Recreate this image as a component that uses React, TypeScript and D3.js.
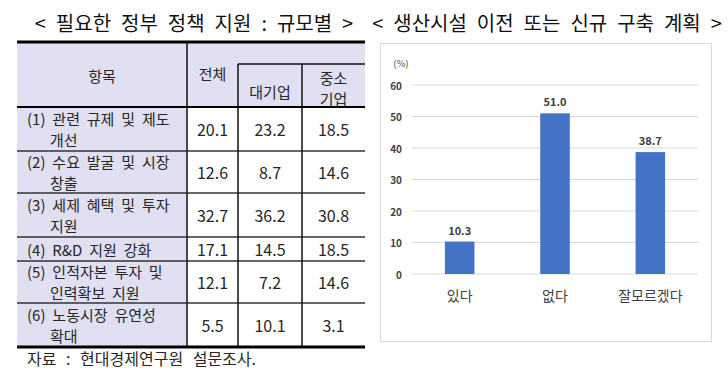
import React from "react";
import * as d3 from "d3";

const titleLeft = "< 필요한 정부 정책 지원 : 규모별 >";
const titleRight = "< 생산시설 이전 또는 신규 구축 계획 >";
const headerItem = "항목";
const headerTotal = "전체";
const headerLarge = "대기업";
const headerSme = ["중소", "기업"];
const itemLabels = [
  ["(1) 관련 규제 및 제도", "개선"],
  ["(2) 수요 발굴 및 시장", "창출"],
  ["(3) 세제 혜택 및 투자", "지원"],
  ["(4) R&D 지원 강화"],
  ["(5) 인적자본 투자 및", "인력확보 지원"],
  ["(6) 노동시장 유연성", "확대"],
];
const totalValues = [20.1, 12.6, 32.7, 17.1, 12.1, 5.5];
const largeValues = [23.2, 8.7, 36.2, 14.5, 7.2, 10.1];
const smeValues = [18.5, 14.6, 30.8, 18.5, 14.6, 3.1];
const sourceNote = "자료 : 현대경제연구원 설문조사.";

const planCategories = ["있다", "없다", "잘모르겠다"];
const planValues = [10.3, 51.0, 38.7];
const yTicks = [0, 10, 20, 30, 40, 50, 60];
const unitLabel = "(%)";

const FONT = "'Noto Sans CJK KR', 'Noto Sans', sans-serif";

export default function App() {
  // table layout
  const tL = 17, tR = 365;
  const colEdges = [tL, 187, 238, 302, tR];
  const headTop = 42, subTop = 64, headBottom = 107;
  const rowEdges = [107, 151, 193, 237, 261, 303, 347];
  const lav = "#e0e0f2";
  const txt = "#262626";
  const fs = 15;

  // chart layout
  const y = d3.scaleLinear().domain([0, 60]).range([274, 85]);
  const x = d3.scaleBand<string>().domain(planCategories).range([412, 698]).paddingInner(0.69).paddingOuter(0.345);

  const colCenters = [
    (colEdges[1] + colEdges[2]) / 2,
    (colEdges[2] + colEdges[3]) / 2,
    (colEdges[3] + colEdges[4]) / 2,
  ];
  const valueCols = [totalValues, largeValues, smeValues];

  return (
    <div style={{ position: "absolute", left: 0, top: 0 }}>
      <svg width={728} height={378} style={{ display: "block", background: "#fff", fontFamily: FONT }}>
        {/* titles */}
        <text x={194} y={31} textAnchor="middle" fontSize={20} fill="#111" style={{ wordSpacing: "5.5px" }}>{titleLeft}</text>
        <text x={547} y={31} textAnchor="middle" fontSize={20} fill="#111" style={{ wordSpacing: "5.5px" }}>{titleRight}</text>

        {/* table backgrounds */}
        <rect x={tL} y={headTop} width={tR - tL} height={headBottom - headTop} fill={lav} />
        <rect x={tL} y={headBottom} width={colEdges[1] - tL} height={rowEdges[6] - headBottom} fill={lav} />

        {/* header text */}
        <text x={(tL + colEdges[1]) / 2} y={75} textAnchor="middle" dominantBaseline="central" fontSize={fs} fill={txt}>{headerItem}</text>
        <text x={colCenters[0]} y={73} textAnchor="middle" dominantBaseline="central" fontSize={fs} fill={txt}>{headerTotal}</text>
        <text x={colCenters[1]} y={91} textAnchor="middle" dominantBaseline="central" fontSize={fs} fill={txt}>{headerLarge}</text>
        <text x={colCenters[2]} y={77} textAnchor="middle" dominantBaseline="central" fontSize={fs} fill={txt}>{headerSme[0]}</text>
        <text x={colCenters[2]} y={98.5} textAnchor="middle" dominantBaseline="central" fontSize={fs} fill={txt}>{headerSme[1]}</text>

        {/* body rows */}
        {itemLabels.map((lines, i) => {
          const top = rowEdges[i], bot = rowEdges[i + 1];
          const c = (top + bot) / 2;
          return (
            <g key={i}>
              {lines.length === 1 ? (
                <text x={27} y={c} dominantBaseline="central" fontSize={fs} fill={txt} style={{ wordSpacing: "3.5px" }}>{lines[0]}</text>
              ) : (
                <>
                  <text x={27} y={c - 10.8} dominantBaseline="central" fontSize={fs} fill={txt} style={{ wordSpacing: "3.5px" }}>{lines[0]}</text>
                  <text x={50} y={c + 10.8} dominantBaseline="central" fontSize={fs} fill={txt} style={{ wordSpacing: "3.5px" }}>{lines[1]}</text>
                </>
              )}
              {valueCols.map((vals, j) => (
                <text key={j} x={colCenters[j]} y={c} textAnchor="middle" dominantBaseline="central" fontSize={16} fill={txt}>
                  {vals[i].toFixed(1)}
                </text>
              ))}
            </g>
          );
        })}

        {/* table lines */}
        {rowEdges.slice(1, 6).map((ry, i) => (
          <line key={i} x1={tL} x2={tR} y1={ry} y2={ry} stroke="#333" strokeWidth={1.5} />
        ))}
        <line x1={colEdges[1]} x2={colEdges[1]} y1={headTop} y2={rowEdges[6]} stroke="#111" strokeWidth={1.5} />
        <line x1={colEdges[2]} x2={colEdges[2]} y1={subTop} y2={rowEdges[6]} stroke="#111" strokeWidth={1.5} />
        <line x1={colEdges[3]} x2={colEdges[3]} y1={subTop} y2={rowEdges[6]} stroke="#111" strokeWidth={1.5} />
        <line x1={colEdges[2]} x2={tR} y1={subTop} y2={subTop} stroke="#111" strokeWidth={1.5} />
        <line x1={tL} x2={tR} y1={headTop} y2={headTop} stroke="#000" strokeWidth={3} />
        <line x1={tL} x2={tR} y1={headBottom} y2={headBottom} stroke="#000" strokeWidth={2} />
        <line x1={tL} x2={tR} y1={rowEdges[6]} y2={rowEdges[6]} stroke="#000" strokeWidth={3} />

        <text x={27} y={358} dominantBaseline="central" fontSize={16} fill={txt} style={{ wordSpacing: "6px" }}>{sourceNote}</text>

        {/* chart box */}
        <rect x={380.5} y={43.5} width={331} height={298} fill="#fff" stroke="#d9d9d9" strokeWidth={1} />
        <text x={401} y={63} textAnchor="middle" dominantBaseline="central" fontSize={9} fontWeight={700} fill="#7f7f7f">{unitLabel}</text>

        {yTicks.map((t) => (
          <g key={t}>
            <line x1={412} x2={698} y1={y(t)} y2={y(t)} stroke="#d9d9d9" strokeWidth={1} />
            <text x={402} y={y(t)} textAnchor="end" dominantBaseline="central" fontSize={10} fontWeight={700} fill="#404040">{t}</text>
          </g>
        ))}

        {planCategories.map((cat, i) => {
          const bx = x(cat)!;
          const bw = x.bandwidth();
          return (
            <g key={cat}>
              <rect x={bx} y={y(planValues[i])} width={bw} height={y(0) - y(planValues[i])} fill="#4472c4" />
              <text x={bx + bw / 2} y={y(planValues[i]) - 12} textAnchor="middle" dominantBaseline="central" fontSize={11} fontWeight={700} fill="#404040">
                {planValues[i].toFixed(1)}
              </text>
              <text x={bx + bw / 2} y={295} textAnchor="middle" dominantBaseline="central" fontSize={14} fill="#404040">{cat}</text>
            </g>
          );
        })}
      </svg>
    </div>
  );
}
